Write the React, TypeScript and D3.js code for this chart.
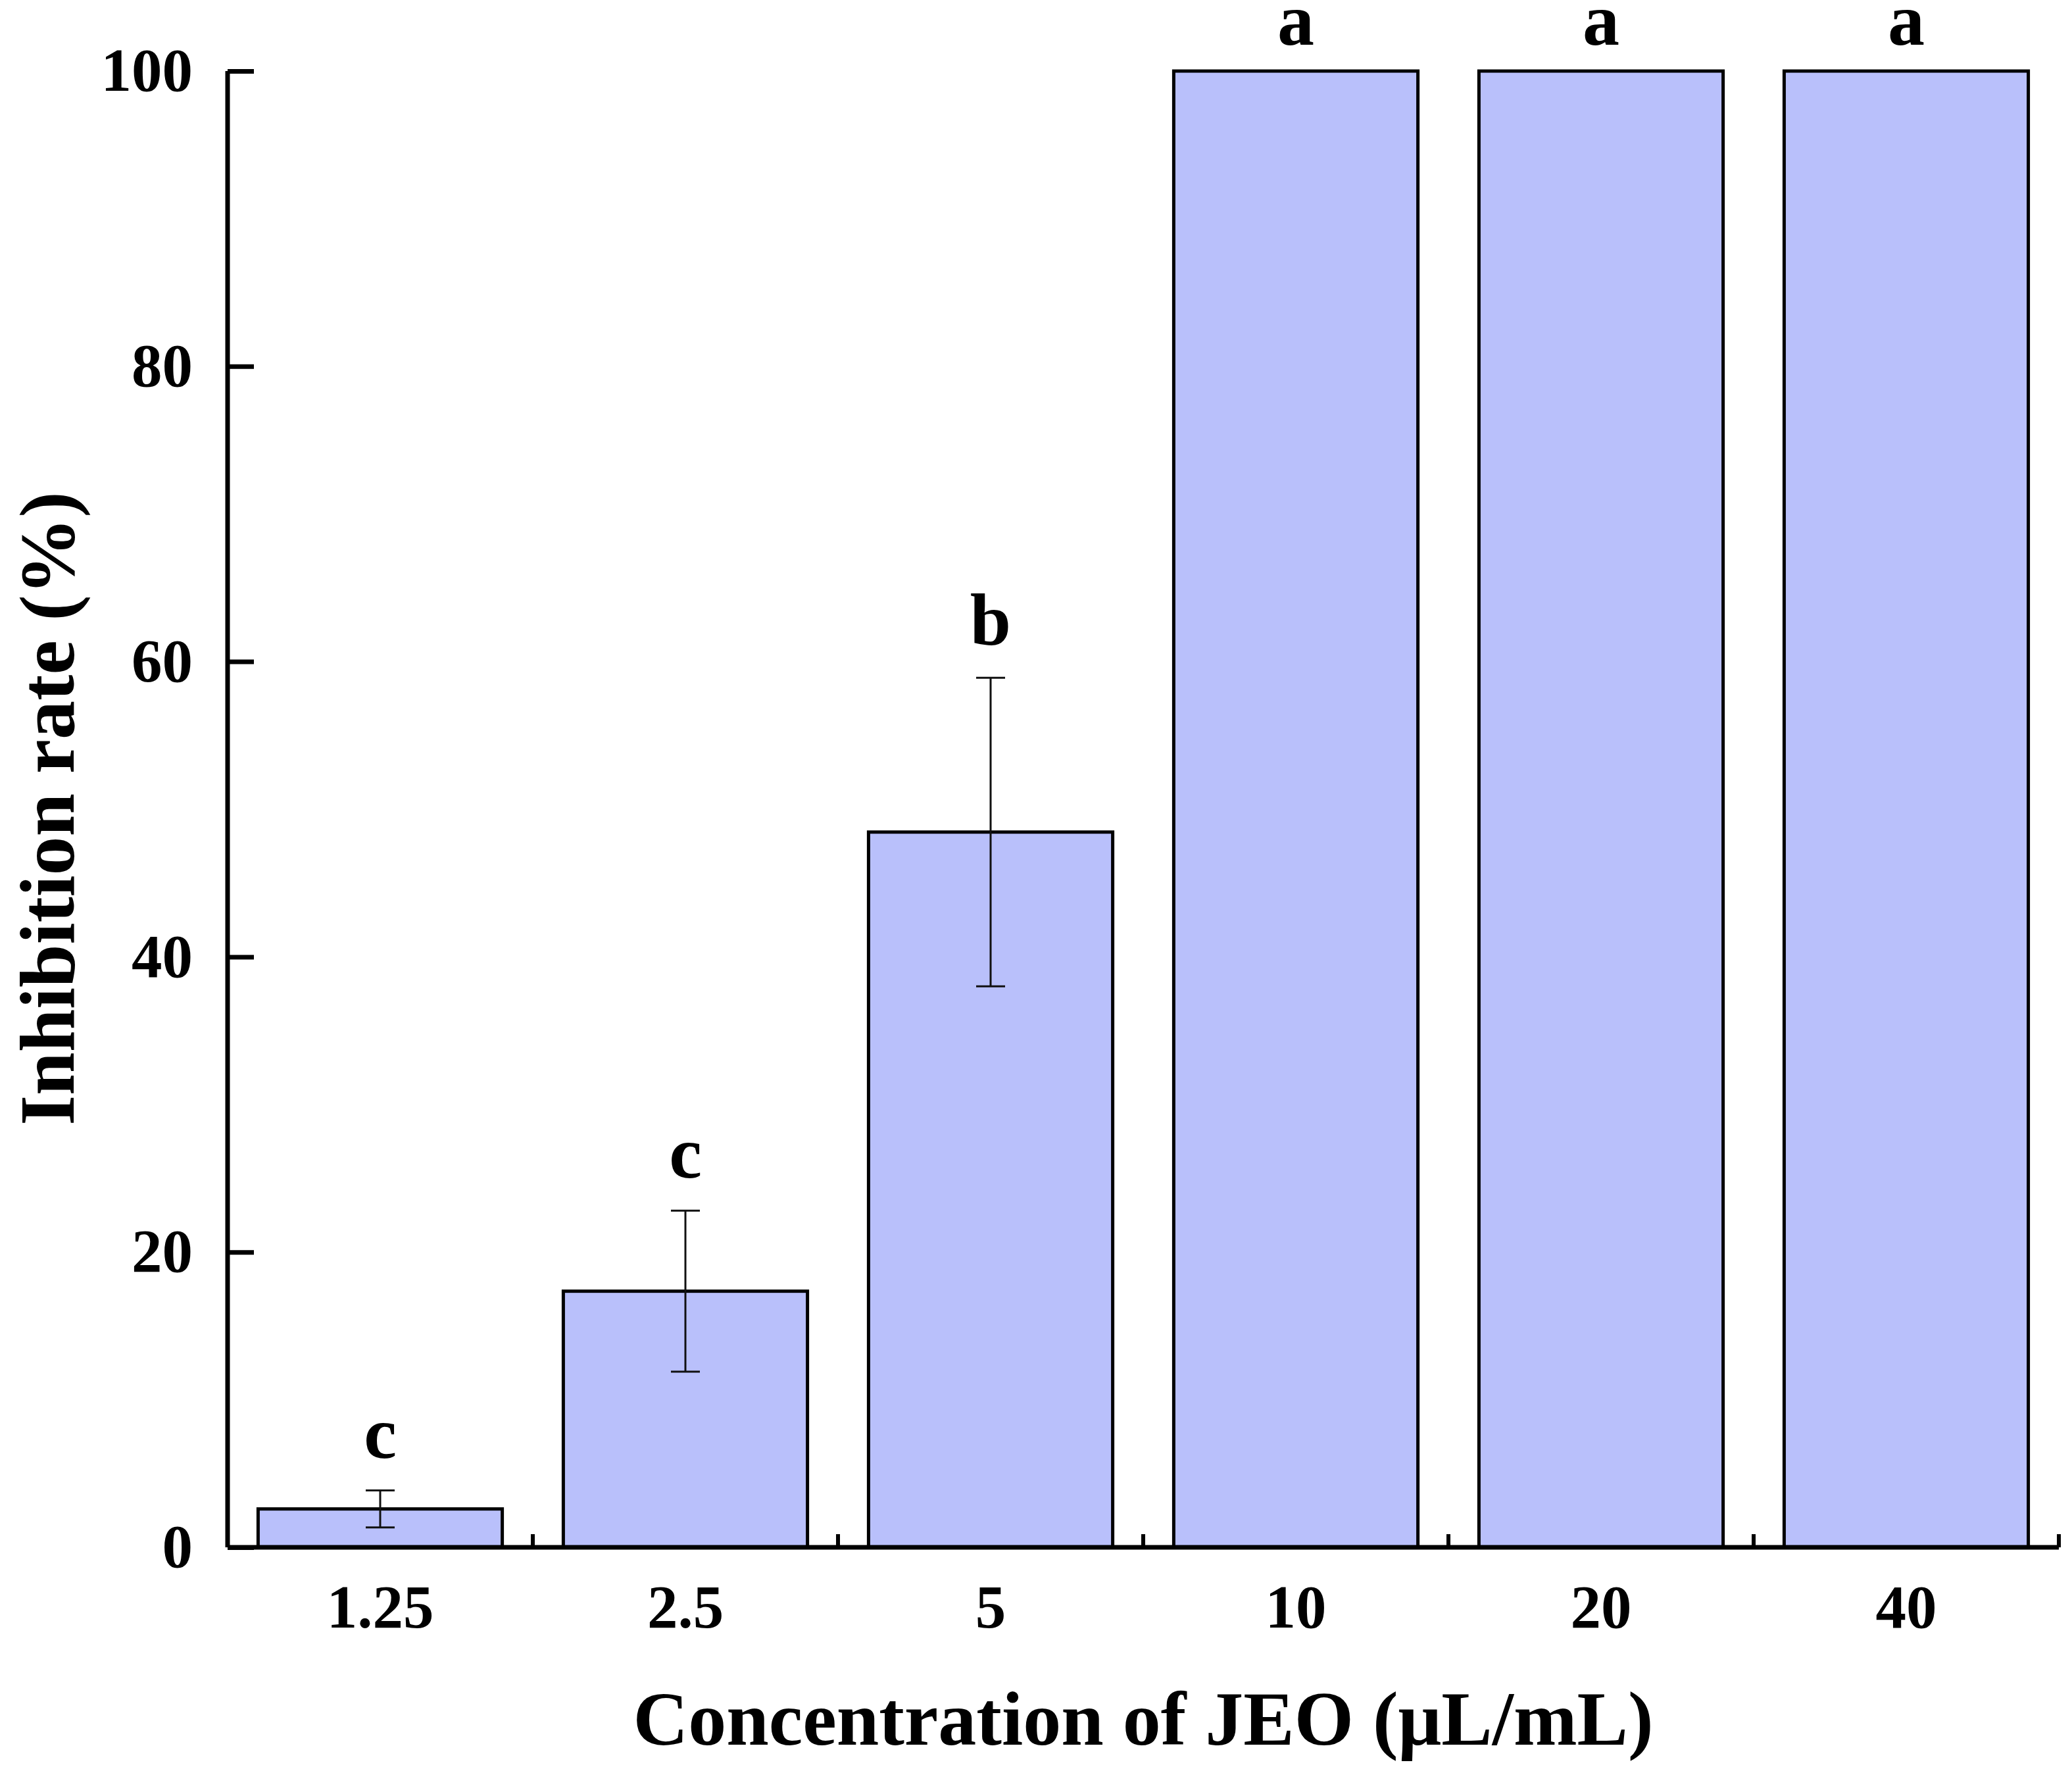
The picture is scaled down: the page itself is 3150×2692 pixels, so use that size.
import React, { useEffect, useRef } from 'react';
import * as d3 from 'd3';

// concentrations (µL/mL)
const categories = ['1.25', '2.5', '5', '10', '20', '40'];
// mean inhibition rate (%)
const means = [2.6, 17.35, 48.45, 100, 100, 100];
// standard deviation
const errors = [1.25, 5.45, 10.45, 0, 0, 0];
// significance letters
const letters = ['c', 'c', 'b', 'a', 'a', 'a'];
const yTicks = [0, 20, 40, 60, 80, 100];

const W = 3150;
const H = 2692;

const App: React.FC = () => {
    const chartRef = useRef<SVGSVGElement>(null);

    useEffect(() => {
        const svg = d3.select(chartRef.current);
        svg.selectAll('*').remove();

        const left = 346;
        const right = 3130;
        const top = 108;
        const bottom = 2352;
        const font = '"Liberation Serif", "Times New Roman", serif';

        const x = d3.scaleBand<string>()
            .domain(categories)
            .range([left, right])
            .paddingInner(0.2)
            .paddingOuter(0.1);

        const y = d3.scaleLinear().domain([0, 100]).range([bottom, top]);

        const g = svg.append('g');

        // bars
        g.selectAll('rect.bar')
            .data(categories)
            .enter()
            .append('rect')
            .attr('class', 'bar')
            .attr('x', d => x(d)!)
            .attr('width', x.bandwidth())
            .attr('y', (d, i) => y(means[i]))
            .attr('height', (d, i) => y(0) - y(means[i]))
            .attr('fill', '#b9c0fb')
            .attr('stroke', '#000')
            .attr('stroke-width', 5);

        // error bars
        const cap = 22;
        categories.forEach((c, i) => {
            if (!errors[i]) return;
            const cx = x(c)! + x.bandwidth() / 2;
            const hi = y(means[i] + errors[i]);
            const lo = y(means[i] - errors[i]);
            g.append('line').attr('x1', cx).attr('x2', cx).attr('y1', hi).attr('y2', lo)
                .attr('stroke', '#111').attr('stroke-width', 3);
            [hi, lo].forEach(yy => {
                g.append('line').attr('x1', cx - cap).attr('x2', cx + cap).attr('y1', yy).attr('y2', yy)
                    .attr('stroke', '#111').attr('stroke-width', 3);
            });
        });

        // letters
        g.selectAll('text.letter')
            .data(categories)
            .enter()
            .append('text')
            .attr('class', 'letter')
            .attr('x', d => x(d)! + x.bandwidth() / 2)
            .attr('y', (d, i) => y(means[i] + errors[i]) - (errors[i] ? 50 : 40))
            .attr('text-anchor', 'middle')
            .attr('font-family', font)
            .attr('font-weight', 'bold')
            .attr('font-size', 112)
            .text((d, i) => letters[i]);

        // y axis
        const yAxis = g.append('g')
            .attr('transform', `translate(${left},0)`)
            .call(d3.axisLeft(y).tickValues(yTicks).tickSize(-40).tickPadding(53));
        yAxis.select('.domain').attr('stroke-width', 7).attr('d', `M0,${bottom}V${top}`);
        yAxis.selectAll('.tick line').attr('stroke-width', 7);
        yAxis.selectAll('.tick text')
            .attr('font-family', font)
            .attr('font-weight', 'bold')
            .attr('font-size', 93)
            .attr('fill', '#000');

        // x axis
        const xAxis = g.append('g')
            .attr('transform', `translate(0,${bottom})`)
            .call(d3.axisBottom(x).tickSize(0).tickPadding(56));
        xAxis.select('.domain').attr('stroke-width', 7).attr('d', `M${left},0H${right}`);
        xAxis.selectAll('.tick text')
            .attr('font-family', font)
            .attr('font-weight', 'bold')
            .attr('font-size', 93)
            .attr('fill', '#000');

        // minor ticks at category boundaries
        const gap = x.step() * x.paddingInner();
        g.selectAll('line.minor')
            .data(categories)
            .enter()
            .append('line')
            .attr('class', 'minor')
            .attr('x1', d => x(d)! + x.bandwidth() + gap / 2)
            .attr('x2', d => x(d)! + x.bandwidth() + gap / 2)
            .attr('y1', bottom)
            .attr('y2', bottom - 20)
            .attr('stroke', '#000')
            .attr('stroke-width', 6);

        // axis titles
        g.append('text')
            .attr('x', (left + right) / 2)
            .attr('y', 2652)
            .attr('text-anchor', 'middle')
            .attr('font-family', font)
            .attr('font-weight', 'bold')
            .attr('font-size', 116)
            .text('Concentration of JEO (μL/mL)');

        g.append('text')
            .attr('transform', `translate(112,${(top + bottom) / 2 - 1}) rotate(-90)`)
            .attr('text-anchor', 'middle')
            .attr('font-family', font)
            .attr('font-weight', 'bold')
            .attr('font-size', 118)
            .text('Inhibition rate (%)');
    }, []);

    return (
        <svg
            ref={chartRef}
            width={W}
            height={H}
            style={{ position: 'absolute', left: 0, top: 0, background: '#fff' }}
        />
    );
};

export default App;
